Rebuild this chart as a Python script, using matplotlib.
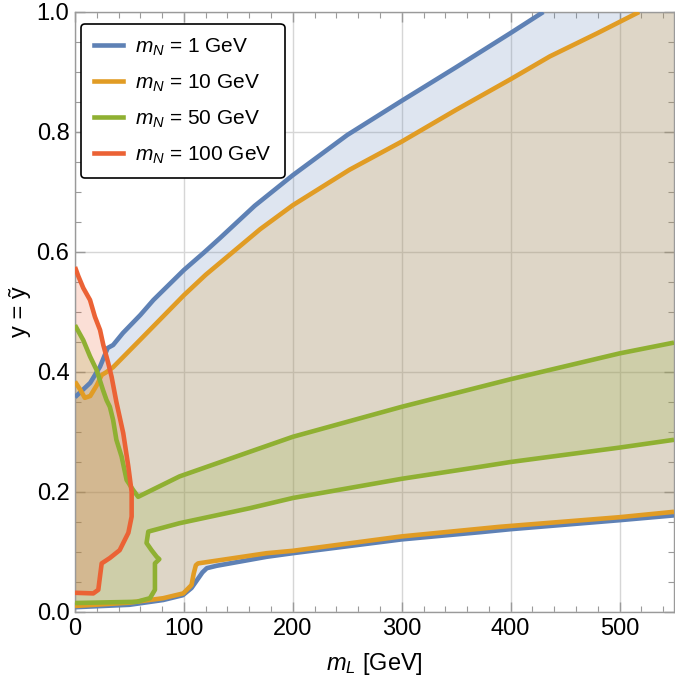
import matplotlib
matplotlib.use("Agg")
import matplotlib.pyplot as plt
from matplotlib.lines import Line2D
from matplotlib.ticker import MultipleLocator, FormatStrFormatter

plt.rcParams["font.family"] = ["Liberation Sans", "DejaVu Sans"]
plt.rcParams["mathtext.fontset"] = "custom"
plt.rcParams["mathtext.rm"] = "Liberation Sans"
plt.rcParams["mathtext.it"] = "Liberation Sans:italic"

# ---- data (x = m_L in GeV, y = coupling) ----
# m_N = 1 GeV
blue_up_x = [0, 14, 23, 30, 35, 44, 60, 72, 100, 119, 133, 165, 200, 250, 300, 350, 400, 430]
blue_up_y = [0.358, 0.382, 0.409, 0.44, 0.445, 0.465, 0.495, 0.52, 0.57, 0.60, 0.623,
             0.677, 0.728, 0.795, 0.852, 0.908, 0.965, 1.0]
blue_lo_x = [0, 50, 81, 99, 107, 112, 117, 121, 130, 176, 200, 300, 372, 400, 500, 550]
blue_lo_y = [0.008, 0.012, 0.02, 0.028, 0.04, 0.053, 0.066, 0.073, 0.077, 0.092, 0.098,
             0.121, 0.133, 0.138, 0.153, 0.161]

# m_N = 10 GeV
orange_up_x = [0, 5, 9, 14, 20, 24.5, 29, 35, 60, 100, 120, 145, 170, 200, 252, 300, 350,
               400, 436, 480, 518]
orange_up_y = [0.384, 0.37, 0.357, 0.36, 0.378, 0.395, 0.40, 0.408, 0.454, 0.528, 0.562,
               0.600, 0.638, 0.678, 0.737, 0.784, 0.837, 0.888, 0.926, 0.965, 1.0]
orange_lo_x = [0, 50, 81, 99.4, 107, 109, 111, 113, 176, 200, 300, 390, 500, 550]
orange_lo_y = [0.01, 0.0156, 0.023, 0.031, 0.045, 0.064, 0.078, 0.081, 0.098, 0.102,
               0.126, 0.142, 0.158, 0.167]

# m_N = 50 GeV
green_up_x = [0, 7.6, 13.8, 19.9, 25.7, 29, 32, 35, 38, 42.8, 47.4, 53.5, 58, 96, 160.5,
              200, 300, 400, 500, 550]
green_up_y = [0.478, 0.453, 0.426, 0.403, 0.37, 0.353, 0.342, 0.32, 0.287, 0.259, 0.22,
              0.203, 0.192, 0.226, 0.267, 0.292, 0.342, 0.388, 0.431, 0.449]
green_lo_x = [0, 56.6, 68.8, 73.4, 73.4, 73.4, 77.4, 75, 70.3, 65.7, 67.3, 96, 160.5,
              200, 300, 372, 400, 500, 550]
green_lo_y = [0.015, 0.017, 0.023, 0.037, 0.064, 0.081, 0.088, 0.092, 0.103, 0.115, 0.134,
              0.148, 0.173, 0.19, 0.222, 0.242, 0.25, 0.274, 0.287]

# m_N = 100 GeV (closed against the x = 0 edge)
red_x = [0, 3, 7.6, 13.8, 18.3, 23, 26, 30.5, 33.6, 38, 44.3, 49, 52, 52, 49, 41, 32,
         24.5, 23, 21.4, 16.8, 0]
red_y = [0.575, 0.56, 0.54, 0.52, 0.492, 0.47, 0.445, 0.415, 0.392, 0.35, 0.298, 0.242,
         0.2, 0.159, 0.132, 0.103, 0.09, 0.081, 0.06, 0.037, 0.031, 0.032]

labels = ["$m_N$ = 1 GeV", "$m_N$ = 10 GeV", "$m_N$ = 50 GeV", "$m_N$ = 100 GeV"]
colors = ["#5E81B5", "#E19C24", "#8FB032", "#EB6235"]

XMAX, YMAX = 550, 1.0

fig = plt.figure(figsize=(6.75, 6.84), dpi=100)
ax = fig.add_axes([75 / 675, 72 / 684, 599 / 675, 600 / 684])

# ---- filled regions (semi transparent, stacked like Mathematica) ----
# blue / orange: lower curve, right edge up to the top, then upper curve back
ax.fill(blue_lo_x + [XMAX, XMAX] + blue_up_x[::-1],
        blue_lo_y + [blue_lo_y[-1], YMAX] + blue_up_y[::-1],
        color=colors[0], alpha=0.2, lw=0, zorder=1)
ax.fill(orange_lo_x + [XMAX, XMAX] + orange_up_x[::-1],
        orange_lo_y + [orange_lo_y[-1], YMAX] + orange_up_y[::-1],
        color=colors[1], alpha=0.2, lw=0, zorder=1)
ax.fill(green_lo_x + green_up_x[::-1], green_lo_y + green_up_y[::-1],
        color=colors[2], alpha=0.2, lw=0, zorder=1)
ax.fill(red_x, red_y, color=colors[3], alpha=0.2, lw=0, zorder=1)

# ---- boundary curves ----
lw = 3.3
kw = dict(lw=lw, solid_joinstyle="round", solid_capstyle="butt")
ax.plot(blue_up_x, blue_up_y, color=colors[0], zorder=3, **kw)
ax.plot(blue_lo_x, blue_lo_y, color=colors[0], zorder=3, **kw)
ax.plot(orange_up_x, orange_up_y, color=colors[1], zorder=4, **kw)
ax.plot(orange_lo_x, orange_lo_y, color=colors[1], zorder=4, **kw)
ax.plot(green_up_x, green_up_y, color=colors[2], zorder=5, **kw)
ax.plot(green_lo_x, green_lo_y, color=colors[2], zorder=5, **kw)
ax.plot(red_x, red_y, color=colors[3], zorder=6, **kw)

# ---- axes, ticks, grid ----
ax.set_xlim(0, XMAX)
ax.set_ylim(0, YMAX)
ax.xaxis.set_major_locator(MultipleLocator(100))
ax.xaxis.set_minor_locator(MultipleLocator(20))
ax.yaxis.set_major_locator(MultipleLocator(0.2))
ax.yaxis.set_minor_locator(MultipleLocator(0.05))
ax.yaxis.set_major_formatter(FormatStrFormatter("%.1f"))
ax.tick_params(which="both", direction="in", top=True, right=True, color="#9a9a9a",
               labelsize=17, labelcolor="black", pad=4)
ax.tick_params(which="major", length=7, width=1)
ax.tick_params(which="minor", length=4, width=0.8)
for s in ax.spines.values():
    s.set_color("#9a9a9a")
    s.set_linewidth(1)
ax.grid(True, which="major", color="#d6d6d6", lw=1, zorder=0)
ax.set_axisbelow(True)

ax.set_xlabel("$m_L$ [GeV]", fontsize=17, labelpad=8)
ax.set_ylabel("y = ỹ", fontsize=17, labelpad=4)

# ---- legend ----
handles = [Line2D([0], [0], color=c, lw=3.3) for c in colors]
leg = ax.legend(handles, labels, loc="upper left", bbox_to_anchor=(0.0, 0.99),
                fontsize=15, frameon=True, fancybox=True, framealpha=1,
                edgecolor="black", handlelength=1.4, handletextpad=0.6,
                labelspacing=0.7, borderpad=0.6, borderaxespad=0.3)
leg.get_frame().set_linewidth(1.2)
leg.set_zorder(10)

fig.savefig("out.png", dpi=100)
